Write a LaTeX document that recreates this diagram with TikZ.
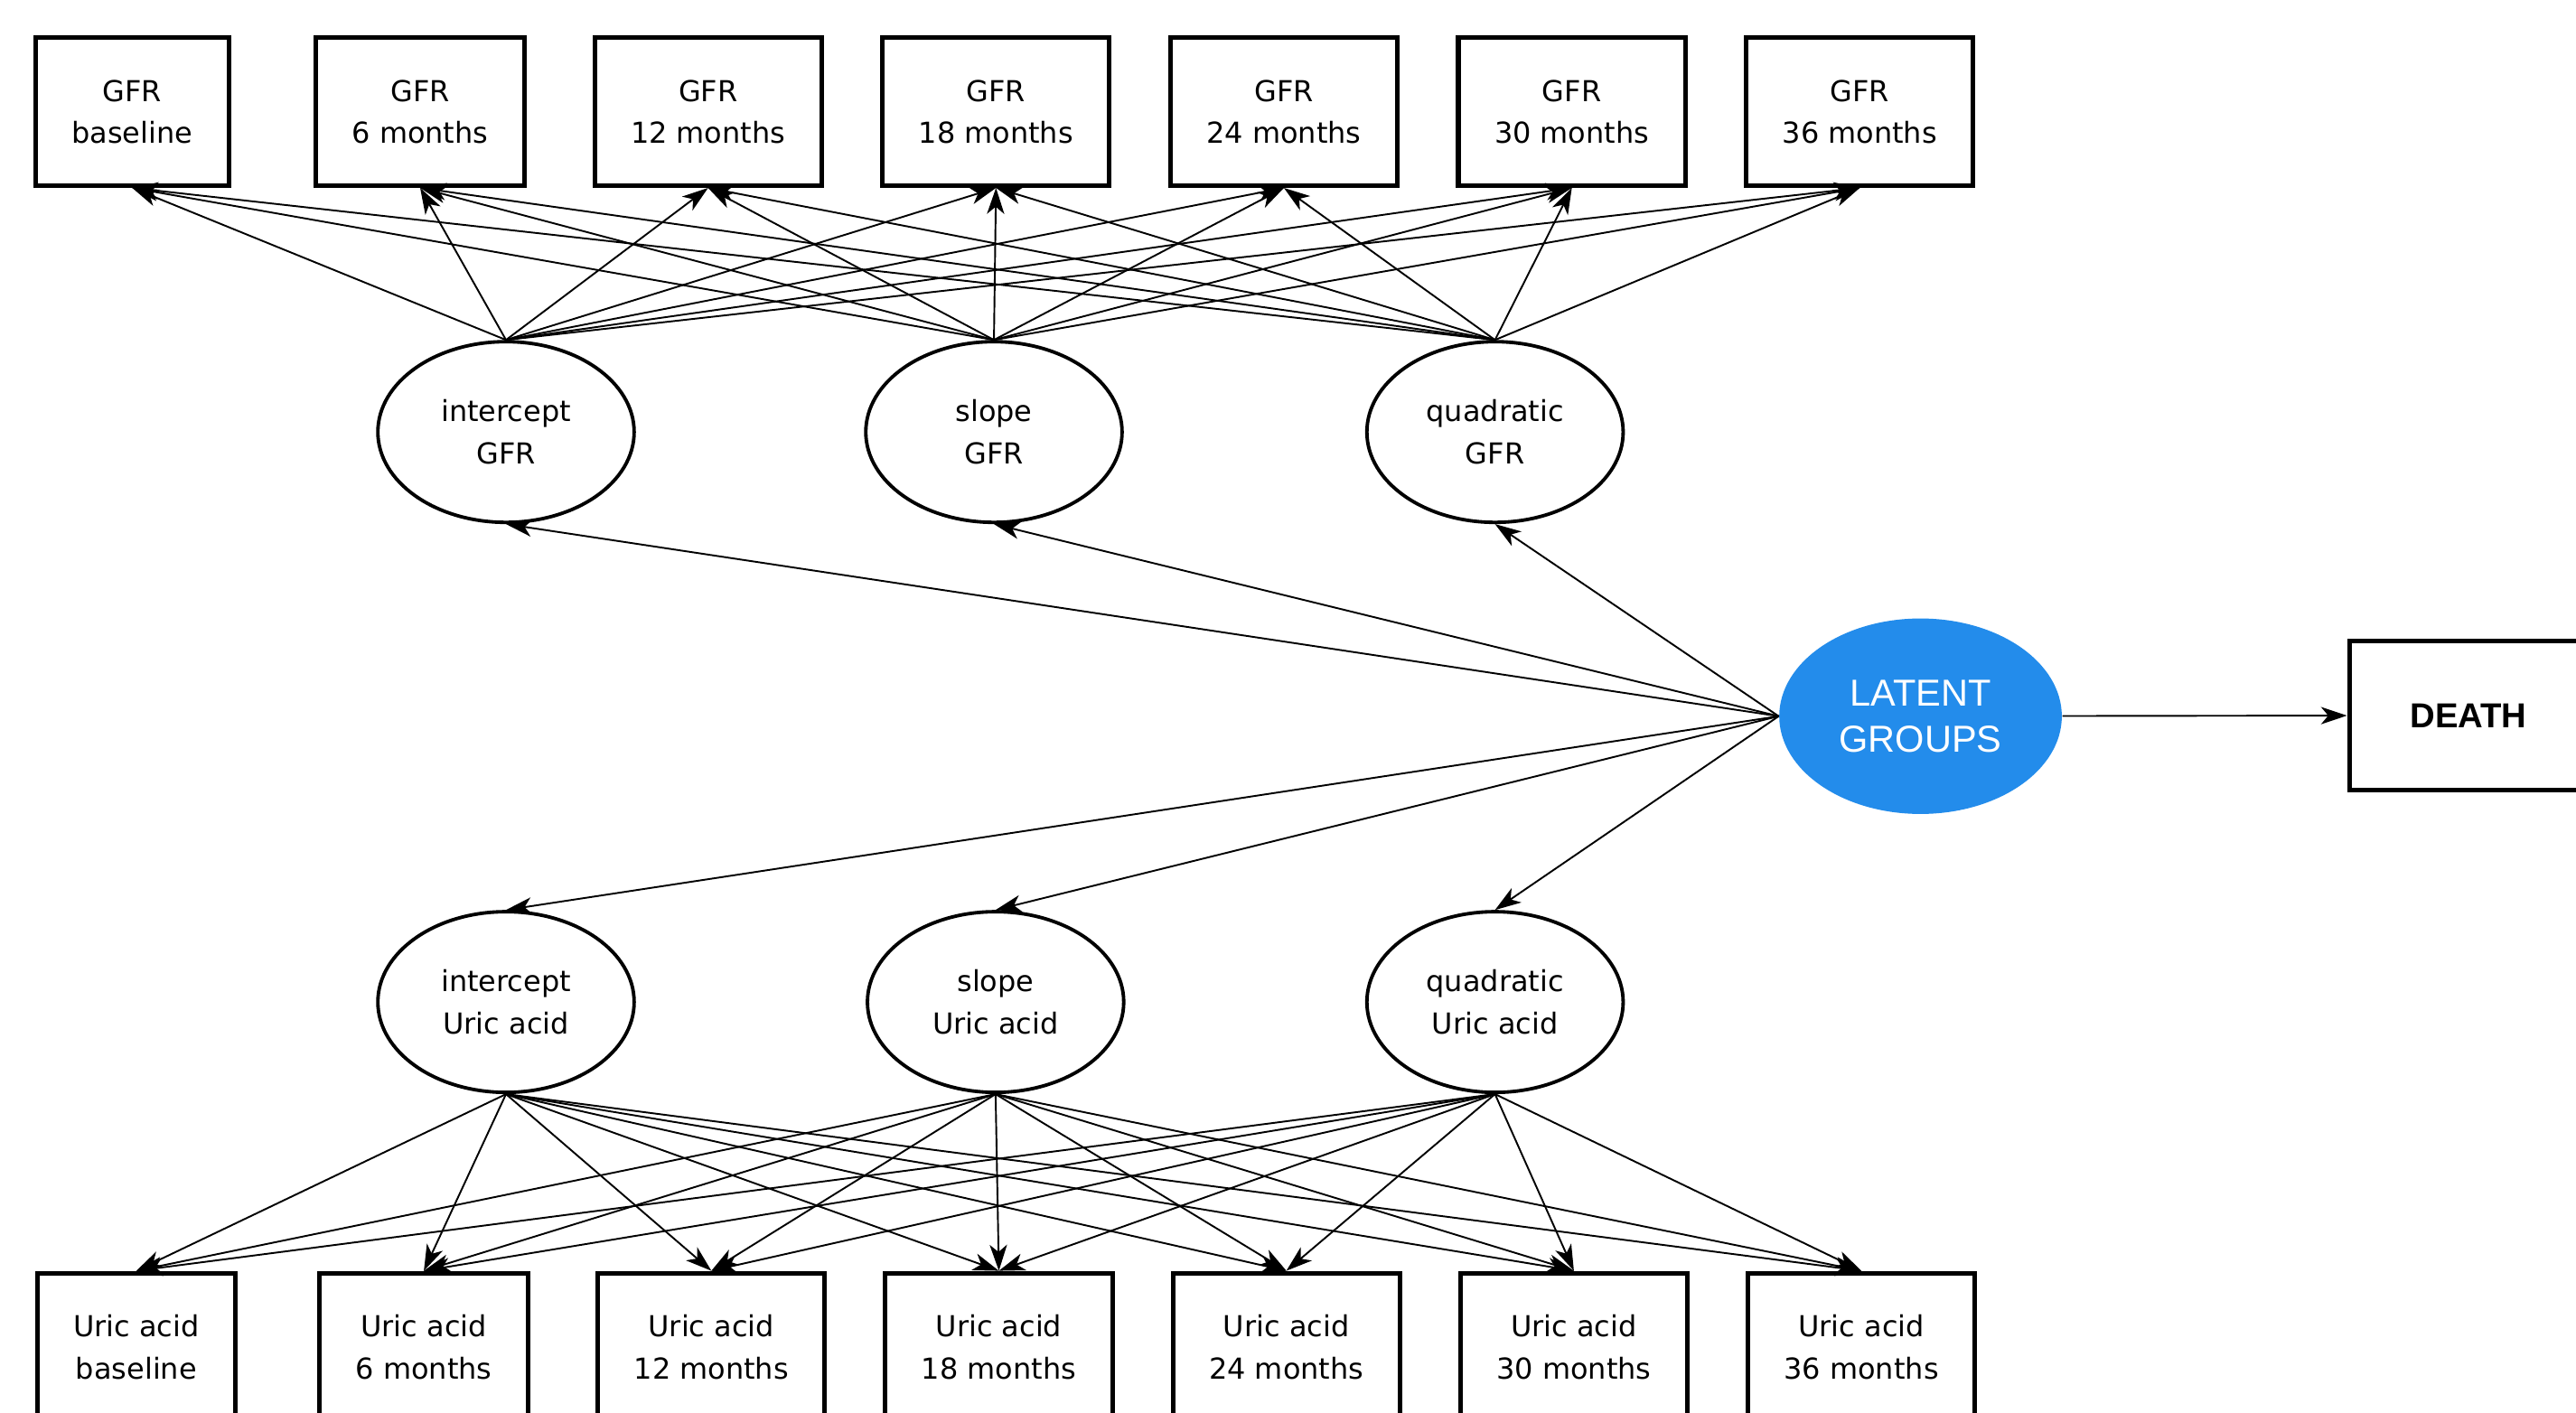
\documentclass[tikz,border=0pt]{standalone}
\usepackage{fontspec}
\setmainfont{DejaVu Sans}
\newfontfamily\arialfont{Liberation Sans}
\usetikzlibrary{shapes,arrows.meta,positioning}
\definecolor{latentblue}{RGB}{35,140,235}

\begin{document}
\begin{tikzpicture}[
    obsbox/.style={draw, line width=1.6pt, minimum height=1.8cm, inner xsep=0.44cm, align=center, font=\fontsize{10}{14.5}\selectfont},
    growth/.style={draw, ellipse, line width=1.2pt, minimum width=3.12cm, minimum height=2.2cm, inner sep=0pt, align=center, font=\fontsize{10}{14.5}\selectfont},
    latent/.style={ellipse, fill=latentblue, text=white, minimum width=3.44cm, minimum height=2.38cm, inner sep=0pt, align=center, font=\arialfont\fontsize{13}{16}\selectfont},
    load/.style={-{Stealth[length=9pt,width=6pt,inset=2.5pt]}, line width=0.6pt}
]
    \clip (0,0) rectangle (31.36,17.2);
    \fill[white] (0,0) rectangle (31.36,17.2);

    % measurements
    \foreach \lab [count=\i] in {baseline,6 months,12 months,18 months,24 months,30 months,36 months} {
        \node[obsbox] (gfr\i) at ({1.61+3.505*(\i-1)},15.84) {GFR\\\lab};
        \node[obsbox] (uric\i) at ({1.66+3.50*(\i-1)},0.8) {Uric acid\\\lab};
    }

    % growth factors
    \node[growth] (intG) at (6.16,11.94) {intercept\\GFR};
    \node[growth] (slpG) at (12.10,11.94) {slope\\GFR};
    \node[growth] (quaG) at (18.2,11.94) {quadratic\\GFR};
    \node[growth] (intU) at (6.16,5.0) {intercept\\Uric acid};
    \node[growth] (slpU) at (12.12,5.0) {slope\\Uric acid};
    \node[growth] (quaU) at (18.2,5.0) {quadratic\\Uric acid};

    \node[latent] (lat) at (23.38,8.48) {LATENT\\GROUPS};
    \node[obsbox, font=\arialfont\bfseries\fontsize{12}{14}\selectfont, minimum width=2.9cm, minimum height=1.82cm] (death) at (30.05,8.49) {DEATH};

    \foreach \g in {intG,slpG,quaG} {
        \foreach \i in {1,...,7} {
            \draw[load] (\g.north) -- (gfr\i.south);
        }
        \draw[load] (lat.west) -- (\g.south);
    }
    \foreach \g in {intU,slpU,quaU} {
        \foreach \i in {1,...,7} {
            \draw[load] (\g.south) -- (uric\i.north);
        }
        \draw[load] (lat.west) -- (\g.north);
    }
    \draw[load] (lat) -- (death);
\end{tikzpicture}
\end{document}
